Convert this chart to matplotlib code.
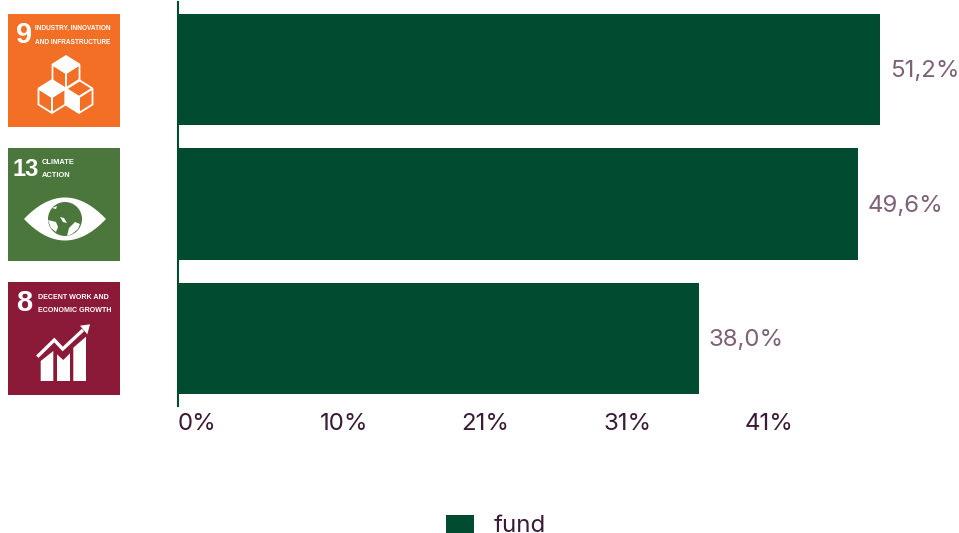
"""SDG exposure bars with goal tiles on the left."""
import matplotlib
matplotlib.use('Agg')
from matplotlib import pyplot as plt
from matplotlib.patches import Circle, Polygon, Rectangle

W, H = 959, 533
GREEN = '#014b30'
TICK_COLOR = '#3a1a35'
VALUE_COLOR = '#7d6177'
NARROW = ['Liberation Sans', 'DejaVu Sans']
FONT_SIZE = 17.3

goals = ['9', '13', '8']
goal_titles = ['INDUSTRY, INNOVATION\nAND INFRASTRUCTURE', 'CLIMATE\nACTION',
               'DECENT WORK AND\nECONOMIC GROWTH']
goal_colors = ['#f36f26', '#4b773d', '#8b1a38']
values = [51.2, 49.6, 38.0]
value_labels = ['51,2%', '49,6%', '38,0%']
ticks = [0, 10.34, 20.68, 31.02, 41.36]
tick_labels = ['0%', '10%', '21%', '31%', '41%']

plt.rcParams['font.family'] = ['Inter', 'DejaVu Sans']


def cubes(ov, x, y):
    """Three isometric cubes, x/y is the tile corner."""
    s, h, d = 13.5, 8.5, 16
    for n, (cx, cy) in enumerate([(58, 59), (44, 83), (71, 83)]):
        cx, cy = cx + x, cy + y
        top = [(cx, cy - 2 * h), (cx + s, cy - h), (cx, cy), (cx - s, cy - h)]
        left = [(cx - s, cy - h), (cx, cy), (cx, cy + d), (cx - s, cy - h + d)]
        right = [(cx + s, cy - h), (cx, cy), (cx, cy + d), (cx + s, cy - h + d)]
        ov.add_patch(Polygon(top, fc='none' if n == 2 else 'white', ec='white', lw=1.3))
        ov.add_patch(Polygon(left, fc='white' if n == 2 else 'none', ec='white', lw=1.3))
        ov.add_patch(Polygon(right, fc='none', ec='white', lw=1.3))


def eye(ov, x, y):
    cx, cy = x + 57, y + 71
    pts_top = [(cx - 41 + 82 * i / 30, cy - 21.5 * (1 - ((i - 15) / 15) ** 2)) for i in range(31)]
    pts_bot = [(a, 2 * cy - b) for a, b in reversed(pts_top)]
    ov.add_patch(Polygon(pts_top + pts_bot, fc='white', ec='none'))
    ov.add_patch(Circle((cx, cy), 17, fc=goal_colors[1], ec='none'))
    land = [
        [(-17, 1), (-9, 3), (-7, 8), (-9, 13), (-14, 9)],
        [(4, 9), (10, 3), (15, 5), (13, 10), (7, 15), (2, 17)],
        [(-13, -11), (-8, -13), (-9, -10)],
        [(-5, -2), (-1, -1), (2, 4), (-2, 3)],
    ]
    for shape in land:
        ov.add_patch(Polygon([(cx + a, cy + b) for a, b in shape], fc='white', ec='none'))


def growth(ov, x, y):
    tops = [
        [(32.7, 79), (45.3, 69), (45.3, 99), (32.7, 99)],
        [(49, 72.3), (55.3, 78), (62, 71.3), (62, 99), (49, 99)],
        [(65.3, 65.7), (78, 54.7), (78, 99), (65.3, 99)],
    ]
    for shape in tops:
        ov.add_patch(Polygon([(x + a, y + b) for a, b in shape], fc='white', ec='none'))
    ov.plot([x + 29.3, x + 46.3, x + 54.7, x + 75], [y + 74.7, y + 58, y + 67, y + 48], color='white',
            lw=2.4, solid_joinstyle='miter', solid_capstyle='butt')
    ov.add_patch(Polygon([(x + 72, y + 43.7), (x + 82, y + 42.3), (x + 79.3, y + 52.3)], fc='white', ec='none'))


def main():
    fig = plt.figure(figsize=(W / 100, H / 100), dpi=100)
    fig.patch.set_facecolor('white')

    # bars, axes box worked out from the reference pixels
    ax = fig.add_axes([178 / W, 1 - 406 / H, (W - 178) / W, 404 / H])
    ax.set_xlim(0, (W - 178) / 13.71)
    ax.set_ylim(2.5, -0.5)
    bars = ax.barh(range(len(values)), values, height=0.825, color=GREEN, label='fund')
    for rect, val, txt in zip(bars, values, value_labels):
        ax.annotate(txt, (val, rect.get_y() + rect.get_height() / 2), xytext=(7.2, -1.2),
                    textcoords='offset points', color=VALUE_COLOR, fontsize=FONT_SIZE,
                    ha='left', va='center')

    for side in ('top', 'right', 'bottom'):
        ax.spines[side].set_visible(False)
    ax.spines['left'].set_color(GREEN)
    ax.spines['left'].set_linewidth(1.5)
    ax.set_yticks([])
    ax.set_xticks(ticks)
    ax.set_xticklabels(tick_labels, ha='left', color=TICK_COLOR, fontsize=FONT_SIZE)
    ax.tick_params(axis='x', length=0, pad=5)

    fig.legend(handles=[bars], labels=['fund'], loc='lower center', bbox_to_anchor=(0.517, -0.008),
               frameon=False, fontsize=FONT_SIZE, labelcolor=TICK_COLOR, handlelength=1.2,
               handleheight=0.75, handletextpad=0.8, borderpad=0, borderaxespad=0)

    # goal tiles, drawn in pixel coordinates on a full figure overlay
    ov = fig.add_axes([0, 0, 1, 1], zorder=3)
    ov.set_xlim(0, W)
    ov.set_ylim(H, 0)
    ov.axis('off')
    tile_tops = [14, 148, 282]
    title_x = [35, 42, 38]
    title_y = [21, 21, 22]
    title_size = [4.7, 5.4, 5.1]
    title_spacing = [2.4, 2.1, 2.3]
    num_size = [21, 17, 21]
    num_x = [24, 25.5, 24]
    for i, top in enumerate(tile_tops):
        ov.add_patch(Rectangle((8, top), 112, 113, fc=goal_colors[i], ec='none'))
        ov.text(num_x[i], top + 21, goals[i], color='white', fontsize=num_size[i], fontweight='bold',
                family=NARROW, ha='center', va='center')
        ov.text(title_x[i], top + title_y[i], goal_titles[i], color='white', fontsize=title_size[i],
                fontweight='bold', family=NARROW, ha='left', va='center', linespacing=title_spacing[i])
    cubes(ov, 8, 14)
    eye(ov, 8, 148)
    growth(ov, 8, 282)

    plt.savefig('out.png', dpi=100)


if __name__ == '__main__':
    main()
